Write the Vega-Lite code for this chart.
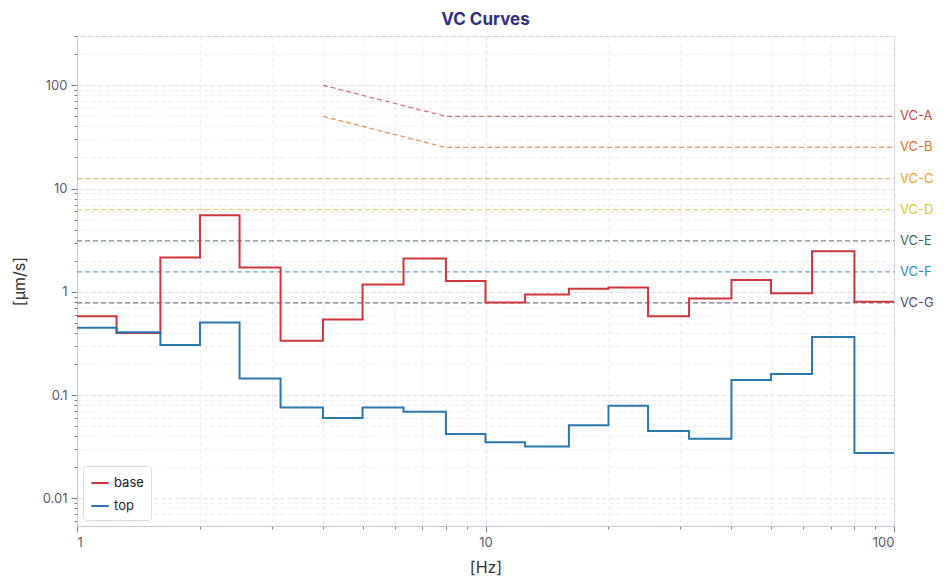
{
  "$schema": "https://vega.github.io/schema/vega-lite/v6.json",
  "autosize": {"type": "none"},
  "width": 817,
  "height": 490,
  "padding": {"left": 77, "top": 36, "right": 55, "bottom": 61},
  "background": "white",
  "config": {
    "font": "Inter",
    "view": {"stroke": "#c5c7dc", "strokeWidth": 1}
  },
  "title": {"text": "VC Curves", "fontSize": 17, "fontWeight": "bold", "color": "#30307f", "font": "Inter", "offset": 1, "anchor": "middle"},
  "datasets": {
    "spectra": [
      {"f": 1, "v": 0.58, "series": "base"},
      {"f": 1.25, "v": 0.40, "series": "base"},
      {"f": 1.6, "v": 2.15, "series": "base"},
      {"f": 2, "v": 5.5, "series": "base"},
      {"f": 2.5, "v": 1.72, "series": "base"},
      {"f": 3.15, "v": 0.335, "series": "base"},
      {"f": 4, "v": 0.54, "series": "base"},
      {"f": 5, "v": 1.18, "series": "base"},
      {"f": 6.3, "v": 2.1, "series": "base"},
      {"f": 8, "v": 1.27, "series": "base"},
      {"f": 10, "v": 0.79, "series": "base"},
      {"f": 12.5, "v": 0.94, "series": "base"},
      {"f": 16, "v": 1.07, "series": "base"},
      {"f": 20, "v": 1.1, "series": "base"},
      {"f": 25, "v": 0.58, "series": "base"},
      {"f": 31.5, "v": 0.86, "series": "base"},
      {"f": 40, "v": 1.3, "series": "base"},
      {"f": 50, "v": 0.97, "series": "base"},
      {"f": 63, "v": 2.47, "series": "base"},
      {"f": 80, "v": 0.8, "series": "base"},
      {"f": 100, "v": 0.8, "series": "base"},
      {"f": 1, "v": 0.45, "series": "top"},
      {"f": 1.25, "v": 0.405, "series": "top"},
      {"f": 1.6, "v": 0.305, "series": "top"},
      {"f": 2, "v": 0.505, "series": "top"},
      {"f": 2.5, "v": 0.145, "series": "top"},
      {"f": 3.15, "v": 0.076, "series": "top"},
      {"f": 4, "v": 0.06, "series": "top"},
      {"f": 5, "v": 0.076, "series": "top"},
      {"f": 6.3, "v": 0.069, "series": "top"},
      {"f": 8, "v": 0.042, "series": "top"},
      {"f": 10, "v": 0.035, "series": "top"},
      {"f": 12.5, "v": 0.0318, "series": "top"},
      {"f": 16, "v": 0.051, "series": "top"},
      {"f": 20, "v": 0.079, "series": "top"},
      {"f": 25, "v": 0.045, "series": "top"},
      {"f": 31.5, "v": 0.0378, "series": "top"},
      {"f": 40, "v": 0.14, "series": "top"},
      {"f": 50, "v": 0.16, "series": "top"},
      {"f": 63, "v": 0.365, "series": "top"},
      {"f": 80, "v": 0.0275, "series": "top"},
      {"f": 100, "v": 0.0275, "series": "top"}
    ],
    "vc": [
      {"f": 4, "v": 100, "curve": "VC-A"},
      {"f": 8, "v": 50, "curve": "VC-A"},
      {"f": 100, "v": 50, "curve": "VC-A"},
      {"f": 4, "v": 50, "curve": "VC-B"},
      {"f": 8, "v": 25, "curve": "VC-B"},
      {"f": 100, "v": 25, "curve": "VC-B"},
      {"f": 1, "v": 12.5, "curve": "VC-C"},
      {"f": 100, "v": 12.5, "curve": "VC-C"},
      {"f": 1, "v": 6.25, "curve": "VC-D"},
      {"f": 100, "v": 6.25, "curve": "VC-D"},
      {"f": 1, "v": 3.12, "curve": "VC-E"},
      {"f": 100, "v": 3.12, "curve": "VC-E"},
      {"f": 1, "v": 1.56, "curve": "VC-F"},
      {"f": 100, "v": 1.56, "curve": "VC-F"},
      {"f": 1, "v": 0.78, "curve": "VC-G"},
      {"f": 100, "v": 0.78, "curve": "VC-G"}
    ]
  },
  "encoding": {
    "x": {
      "field": "f", "type": "quantitative",
      "scale": {"type": "log", "domain": [1, 100], "nice": false},
      "axis": {
        "title": "[Hz]", "titleFontSize": 16, "titleFontWeight": "normal", "titleColor": "#333333", "titlePadding": 10,
        "values": [1, 2, 3, 4, 5, 6, 7, 8, 9, 10, 20, 30, 40, 50, 60, 70, 80, 90, 100],
        "labelExpr": "indexof([1, 10, 100], datum.value) >= 0 ? datum.label : ''",
        "format": "~g", "labelOverlap": false, "labelFontSize": 13, "labelColor": "#5a5a66", "labelPadding": 4,
        "domainColor": "#c5c7dc",
        "tickColor": "#777788",
        "tickSize": {"condition": {"test": "indexof([1, 10, 100], datum.value) >= 0", "value": 6}, "value": 3},
        "gridDash": [4, 3],
        "gridColor": {"condition": {"test": "indexof([1, 10, 100], datum.value) >= 0", "value": "#dcdce6"}, "value": "#ececf2"}
      }
    },
    "y": {
      "field": "v", "type": "quantitative",
      "scale": {"type": "log", "domain": [0.0054, 300], "nice": false},
      "axis": {
        "title": "[µm/s]", "titleFontSize": 16, "titleFontWeight": "normal", "titleColor": "#333333", "titlePadding": 15,
        "values": [0.006, 0.007, 0.008, 0.009, 0.01, 0.02, 0.03, 0.04, 0.05, 0.06, 0.07, 0.08, 0.09, 0.1, 0.2, 0.3, 0.4, 0.5, 0.6, 0.7, 0.8, 0.9, 1, 2, 3, 4, 5, 6, 7, 8, 9, 10, 20, 30, 40, 50, 60, 70, 80, 90, 100, 200, 300],
        "labelExpr": "indexof([0.01, 0.1, 1, 10, 100], datum.value) >= 0 ? datum.label : ''",
        "format": "~g", "labelOverlap": false, "labelFontSize": 13, "labelColor": "#5a5a66", "labelPadding": 4,
        "domainColor": "#c5c7dc",
        "tickColor": "#777788",
        "tickSize": {"condition": {"test": "indexof([0.01, 0.1, 1, 10, 100], datum.value) >= 0", "value": 6}, "value": 3},
        "gridDash": [4, 3],
        "gridColor": {"condition": {"test": "indexof([0.01, 0.1, 1, 10, 100], datum.value) >= 0", "value": "#dcdce6"}, "value": "#ececf2"}
      }
    }
  },
  "layer": [
    {
      "data": {"name": "vc"},
      "mark": {"type": "line", "strokeWidth": 1.3, "strokeDash": [5, 3], "opacity": 0.75},
      "encoding": {
        "color": {
          "field": "curve", "type": "nominal", "legend": null,
          "scale": {"domain": ["VC-A", "VC-B", "VC-C", "VC-D", "VC-E", "VC-F", "VC-G"], "range": ["#c44a4a", "#e0701e", "#f0a028", "#d8c62a", "#3a6656", "#2a88c6", "#4c4a70"]}
        },
        "detail": {"field": "curve"}
      }
    },
    {
      "data": {"name": "vc"},
      "transform": [{"filter": "datum.f == 100"}],
      "mark": {"type": "text", "align": "left", "baseline": "middle", "dx": 6, "fontSize": 13},
      "encoding": {
        "text": {"field": "curve"},
        "color": {
          "field": "curve", "type": "nominal", "legend": null,
          "scale": {"domain": ["VC-A", "VC-B", "VC-C", "VC-D", "VC-E", "VC-F", "VC-G"], "range": ["#c44a4a", "#e0701e", "#f0a028", "#d8c62a", "#3a6656", "#2a88c6", "#4c4a70"]}
        }
      }
    },
    {
      "data": {"name": "spectra"},
      "mark": {"type": "line", "interpolate": "step-after", "strokeWidth": 2},
      "encoding": {
        "color": {
          "field": "series", "type": "nominal",
          "scale": {"domain": ["base", "top"], "range": ["#d0353b", "#2a78ae"]},
          "legend": {
            "title": null, "orient": "bottom-left", "offset": 6, "symbolType": "stroke", "symbolStrokeWidth": 2, "symbolSize": 300,
            "labelFontSize": 13, "labelColor": "#222222", "fillColor": "white", "strokeColor": "#dddddd", "padding": 7, "cornerRadius": 3, "rowPadding": 6
          }
        }
      }
    }
  ],
  "resolve": {"scale": {"color": "independent"}}
}
